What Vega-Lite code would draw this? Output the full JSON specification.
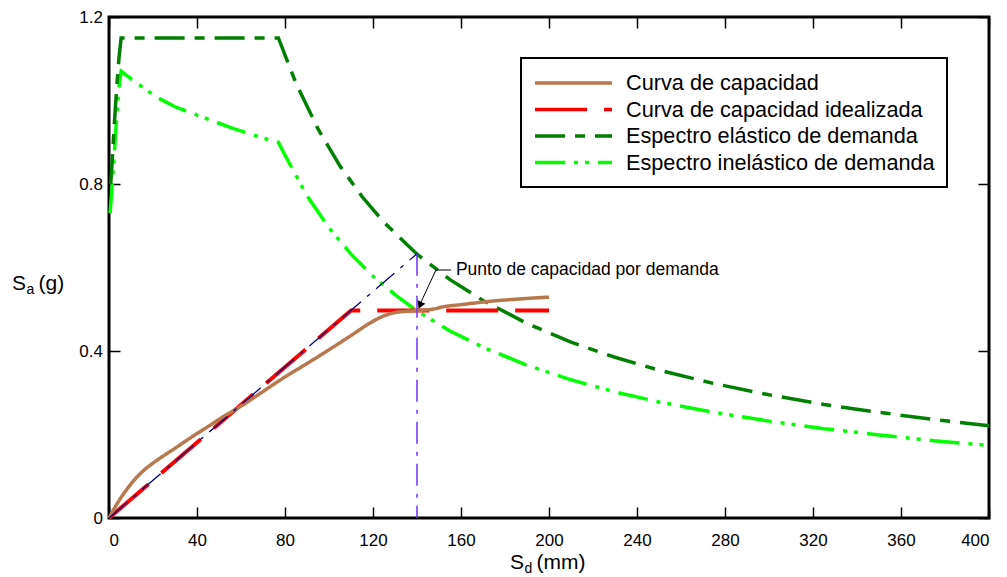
{
  "$schema": "https://vega.github.io/schema/vega-lite/v6.json",
  "width": 880,
  "height": 501,
  "autosize": {"type": "none"},
  "padding": {"left": 109, "top": 17, "right": 18, "bottom": 59},
  "background": "white",
  "config": {
    "font": "Liberation Sans",
    "view": {"stroke": "black", "strokeWidth": 3},
    "axis": {"grid": false, "domain": false, "ticks": true, "tickColor": "black", "tickWidth": 1.5, "tickSize": -11, "labelFontSize": 17, "labelColor": "black", "labelFont": "Liberation Sans", "title": null},
    "legend": {
      "orient": "none", "legendX": 412, "legendY": 41,
      "strokeColor": "black", "strokeWidth": 2, "fillColor": "white", "padding": 12,
      "symbolType": "M-1,0H6", "symbolSize": 484, "symbolStrokeWidth": 3.5,
      "labelFontSize": 21.7, "labelFont": "Liberation Sans", "labelColor": "black",
      "labelOffset": 67, "rowPadding": 1.5, "labelLimit": 600, "title": null
    }
  },
  "datasets": {
    "series": [
      {"s": "Curva de capacidad", "x": 0, "y": 0},
      {"s": "Curva de capacidad", "x": 4, "y": 0.037},
      {"s": "Curva de capacidad", "x": 8, "y": 0.068},
      {"s": "Curva de capacidad", "x": 12, "y": 0.094},
      {"s": "Curva de capacidad", "x": 16, "y": 0.115},
      {"s": "Curva de capacidad", "x": 22, "y": 0.139},
      {"s": "Curva de capacidad", "x": 30, "y": 0.167},
      {"s": "Curva de capacidad", "x": 37, "y": 0.192},
      {"s": "Curva de capacidad", "x": 45, "y": 0.219},
      {"s": "Curva de capacidad", "x": 52, "y": 0.243},
      {"s": "Curva de capacidad", "x": 60, "y": 0.268},
      {"s": "Curva de capacidad", "x": 70, "y": 0.303},
      {"s": "Curva de capacidad", "x": 80, "y": 0.338},
      {"s": "Curva de capacidad", "x": 90, "y": 0.37},
      {"s": "Curva de capacidad", "x": 100, "y": 0.403},
      {"s": "Curva de capacidad", "x": 110, "y": 0.437},
      {"s": "Curva de capacidad", "x": 118, "y": 0.465},
      {"s": "Curva de capacidad", "x": 124, "y": 0.482},
      {"s": "Curva de capacidad", "x": 130, "y": 0.492},
      {"s": "Curva de capacidad", "x": 135, "y": 0.495},
      {"s": "Curva de capacidad", "x": 140, "y": 0.497},
      {"s": "Curva de capacidad", "x": 147, "y": 0.5},
      {"s": "Curva de capacidad", "x": 152, "y": 0.506},
      {"s": "Curva de capacidad", "x": 160, "y": 0.511},
      {"s": "Curva de capacidad", "x": 168, "y": 0.516},
      {"s": "Curva de capacidad", "x": 175, "y": 0.52},
      {"s": "Curva de capacidad", "x": 185, "y": 0.524},
      {"s": "Curva de capacidad", "x": 193, "y": 0.527},
      {"s": "Curva de capacidad", "x": 200, "y": 0.529},
      {"s": "Curva de capacidad idealizada", "x": 0, "y": 0},
      {"s": "Curva de capacidad idealizada", "x": 110, "y": 0.497},
      {"s": "Curva de capacidad idealizada", "x": 200, "y": 0.497},
      {"s": "Espectro elástico de demanda", "x": 0.8, "y": 0.8},
      {"s": "Espectro elástico de demanda", "x": 1.5, "y": 0.86},
      {"s": "Espectro elástico de demanda", "x": 2.5, "y": 0.95},
      {"s": "Espectro elástico de demanda", "x": 3.5, "y": 1.03},
      {"s": "Espectro elástico de demanda", "x": 4.5, "y": 1.1},
      {"s": "Espectro elástico de demanda", "x": 5.5, "y": 1.15},
      {"s": "Espectro elástico de demanda", "x": 77, "y": 1.15},
      {"s": "Espectro elástico de demanda", "x": 85, "y": 1.041},
      {"s": "Espectro elástico de demanda", "x": 95, "y": 0.932},
      {"s": "Espectro elástico de demanda", "x": 105, "y": 0.843},
      {"s": "Espectro elástico de demanda", "x": 115, "y": 0.77},
      {"s": "Espectro elástico de demanda", "x": 125, "y": 0.708},
      {"s": "Espectro elástico de demanda", "x": 140, "y": 0.632},
      {"s": "Espectro elástico de demanda", "x": 155, "y": 0.571},
      {"s": "Espectro elástico de demanda", "x": 170, "y": 0.521},
      {"s": "Espectro elástico de demanda", "x": 190, "y": 0.466},
      {"s": "Espectro elástico de demanda", "x": 210, "y": 0.421},
      {"s": "Espectro elástico de demanda", "x": 230, "y": 0.385},
      {"s": "Espectro elástico de demanda", "x": 250, "y": 0.354},
      {"s": "Espectro elástico de demanda", "x": 275, "y": 0.322},
      {"s": "Espectro elástico de demanda", "x": 300, "y": 0.295},
      {"s": "Espectro elástico de demanda", "x": 325, "y": 0.272},
      {"s": "Espectro elástico de demanda", "x": 350, "y": 0.253},
      {"s": "Espectro elástico de demanda", "x": 375, "y": 0.236},
      {"s": "Espectro elástico de demanda", "x": 400, "y": 0.221},
      {"s": "Espectro inelástico de demanda", "x": 0.5, "y": 0.73},
      {"s": "Espectro inelástico de demanda", "x": 1.5, "y": 0.8},
      {"s": "Espectro inelástico de demanda", "x": 2.5, "y": 0.88},
      {"s": "Espectro inelástico de demanda", "x": 3.5, "y": 0.96},
      {"s": "Espectro inelástico de demanda", "x": 4.5, "y": 1.03},
      {"s": "Espectro inelástico de demanda", "x": 5.5, "y": 1.07},
      {"s": "Espectro inelástico de demanda", "x": 11, "y": 1.048},
      {"s": "Espectro inelástico de demanda", "x": 21.7, "y": 1.008},
      {"s": "Espectro inelástico de demanda", "x": 30, "y": 0.985},
      {"s": "Espectro inelástico de demanda", "x": 40, "y": 0.965},
      {"s": "Espectro inelástico de demanda", "x": 56, "y": 0.934},
      {"s": "Espectro inelástico de demanda", "x": 70, "y": 0.91},
      {"s": "Espectro inelástico de demanda", "x": 77, "y": 0.9},
      {"s": "Espectro inelástico de demanda", "x": 80, "y": 0.869},
      {"s": "Espectro inelástico de demanda", "x": 90, "y": 0.772},
      {"s": "Espectro inelástico de demanda", "x": 100, "y": 0.695},
      {"s": "Espectro inelástico de demanda", "x": 110, "y": 0.632},
      {"s": "Espectro inelástico de demanda", "x": 120, "y": 0.579},
      {"s": "Espectro inelástico de demanda", "x": 130, "y": 0.535},
      {"s": "Espectro inelástico de demanda", "x": 140, "y": 0.496},
      {"s": "Espectro inelástico de demanda", "x": 155, "y": 0.448},
      {"s": "Espectro inelástico de demanda", "x": 170, "y": 0.409},
      {"s": "Espectro inelástico de demanda", "x": 190, "y": 0.366},
      {"s": "Espectro inelástico de demanda", "x": 210, "y": 0.331},
      {"s": "Espectro inelástico de demanda", "x": 230, "y": 0.302},
      {"s": "Espectro inelástico de demanda", "x": 250, "y": 0.278},
      {"s": "Espectro inelástico de demanda", "x": 275, "y": 0.253},
      {"s": "Espectro inelástico de demanda", "x": 300, "y": 0.232},
      {"s": "Espectro inelástico de demanda", "x": 325, "y": 0.214},
      {"s": "Espectro inelástico de demanda", "x": 350, "y": 0.199},
      {"s": "Espectro inelástico de demanda", "x": 375, "y": 0.185},
      {"s": "Espectro inelástico de demanda", "x": 400, "y": 0.174}
    ],
    "helper": [
      {"k": "blue", "x": 0, "y": 0},
      {"k": "blue", "x": 140, "y": 0.633},
      {"k": "violet", "x": 140, "y": 0.633},
      {"k": "violet", "x": 140, "y": 0},
      {"k": "arrow", "x": 155.5, "y": 0.594, "o": 1},
      {"k": "arrow", "x": 148.6, "y": 0.594, "o": 2},
      {"k": "arrow", "x": 141.2, "y": 0.51, "o": 3}
    ],
    "head": [{"x": 141.6, "y": 0.512}],
    "txt": [
      {"part": "main", "label": "S", "x": 182.3, "y": -0.122},
      {"part": "sub", "label": "d", "x": 182.3, "y": -0.122},
      {"part": "rest", "label": "(mm)", "x": 182.3, "y": -0.122},
      {"part": "main", "label": "S", "x": -44.1, "y": 0.546},
      {"part": "sub", "label": "a", "x": -44.1, "y": 0.546},
      {"part": "rest", "label": "(g)", "x": -44.1, "y": 0.546},
      {"part": "ann", "label": "Punto de capacidad por demanda", "x": 157.7, "y": 0.594}
    ]
  },
  "layer": [
    {
      "data": {"name": "series"},
      "transform": [{"filter": "datum.s == 'Espectro inelástico de demanda'"}],
      "mark": {"type": "line", "strokeWidth": 3.5},
      "encoding": {
        "x": {"field": "x", "type": "quantitative", "scale": {"domain": [0, 400], "nice": false, "zero": false}, "axis": {"orient": "bottom", "values": [0, 40, 80, 120, 160, 200, 240, 280, 320, 360, 400], "labelPadding": 25}},
        "y": {"field": "y", "type": "quantitative", "scale": {"domain": [0, 1.2], "nice": false, "zero": false}, "axis": {"orient": "left", "values": [0, 0.4, 0.8, 1.2], "format": "~g", "labelPadding": 17.5}},
        "color": {"field": "s", "type": "nominal", "scale": {"domain": ["Curva de capacidad", "Curva de capacidad idealizada", "Espectro elástico de demanda", "Espectro inelástico de demanda"], "range": ["#B8784E", "#FF0000", "#008000", "#00FF00"]}},
        "strokeDash": {"field": "s", "type": "nominal", "scale": {"domain": ["Curva de capacidad", "Curva de capacidad idealizada", "Espectro elástico de demanda", "Espectro inelástico de demanda"], "range": [[1, 0], [52, 17], [30, 10, 10, 10], [30, 9, 4, 7, 4, 9]]}}
      }
    },
    {
      "data": {"name": "series"},
      "transform": [{"filter": "datum.s == 'Espectro elástico de demanda'"}],
      "mark": {"type": "line", "strokeWidth": 3.5},
      "encoding": {
        "x": {"field": "x", "type": "quantitative", "axis": {"orient": "top", "labels": false, "values": [0, 40, 80, 120, 160, 200, 240, 280, 320, 360, 400]}},
        "y": {"field": "y", "type": "quantitative", "axis": {"orient": "right", "labels": false, "values": [0, 0.4, 0.8, 1.2]}},
        "color": {"field": "s", "type": "nominal"},
        "strokeDash": {"field": "s", "type": "nominal"}
      }
    },
    {
      "data": {"name": "series"},
      "transform": [{"filter": "datum.s == 'Curva de capacidad idealizada'"}],
      "mark": {"type": "line", "strokeWidth": 4},
      "encoding": {
        "x": {"field": "x", "type": "quantitative", "axis": null},
        "y": {"field": "y", "type": "quantitative", "axis": null},
        "color": {"field": "s", "type": "nominal"},
        "strokeDash": {"field": "s", "type": "nominal"}
      }
    },
    {
      "data": {"name": "series"},
      "transform": [{"filter": "datum.s == 'Curva de capacidad'"}],
      "mark": {"type": "line", "strokeWidth": 3.5, "interpolate": "monotone"},
      "encoding": {
        "x": {"field": "x", "type": "quantitative", "axis": null},
        "y": {"field": "y", "type": "quantitative", "axis": null},
        "color": {"field": "s", "type": "nominal"},
        "strokeDash": {"field": "s", "type": "nominal"}
      }
    },
    {
      "data": {"name": "helper"},
      "transform": [{"filter": "datum.k == 'blue'"}],
      "mark": {"type": "line", "color": "#000080", "strokeWidth": 1.3, "strokeDash": [24, 8, 4, 8]},
      "encoding": {
        "x": {"field": "x", "type": "quantitative", "axis": null},
        "y": {"field": "y", "type": "quantitative", "axis": null}
      }
    },
    {
      "data": {"name": "helper"},
      "transform": [{"filter": "datum.k == 'violet'"}],
      "mark": {"type": "line", "color": "#7030FF", "strokeWidth": 1.5, "strokeDash": [22, 8, 4, 8], "orient": "vertical"},
      "encoding": {
        "x": {"field": "x", "type": "quantitative", "axis": null},
        "y": {"field": "y", "type": "quantitative", "axis": null},
        "order": {"field": "y", "sort": "descending"}
      }
    },
    {
      "data": {"name": "helper"},
      "transform": [{"filter": "datum.k == 'arrow'"}],
      "mark": {"type": "line", "color": "black", "strokeWidth": 1},
      "encoding": {
        "x": {"field": "x", "type": "quantitative", "axis": null},
        "y": {"field": "y", "type": "quantitative", "axis": null},
        "order": {"field": "o"}
      }
    },
    {
      "data": {"name": "head"},
      "mark": {"type": "point", "shape": "triangle", "filled": true, "color": "black", "size": 70, "angle": 204, "opacity": 1},
      "encoding": {
        "x": {"field": "x", "type": "quantitative", "axis": null},
        "y": {"field": "y", "type": "quantitative", "axis": null}
      }
    },
    {
      "data": {"name": "txt"},
      "transform": [{"filter": "datum.part == 'main'"}],
      "mark": {"type": "text", "align": "left", "baseline": "alphabetic", "fontSize": 21, "font": "Liberation Sans", "color": "black"},
      "encoding": {
        "x": {"field": "x", "type": "quantitative", "axis": null},
        "y": {"field": "y", "type": "quantitative", "axis": null},
        "text": {"field": "label"}
      }
    },
    {
      "data": {"name": "txt"},
      "transform": [{"filter": "datum.part == 'sub'"}],
      "mark": {"type": "text", "align": "left", "baseline": "alphabetic", "fontSize": 14, "font": "Liberation Sans", "color": "black", "dx": 14.5, "dy": 4},
      "encoding": {
        "x": {"field": "x", "type": "quantitative", "axis": null},
        "y": {"field": "y", "type": "quantitative", "axis": null},
        "text": {"field": "label"}
      }
    },
    {
      "data": {"name": "txt"},
      "transform": [{"filter": "datum.part == 'rest'"}],
      "mark": {"type": "text", "align": "left", "baseline": "alphabetic", "fontSize": 21, "font": "Liberation Sans", "color": "black", "dx": 26.5},
      "encoding": {
        "x": {"field": "x", "type": "quantitative", "axis": null},
        "y": {"field": "y", "type": "quantitative", "axis": null},
        "text": {"field": "label"}
      }
    },
    {
      "data": {"name": "txt"},
      "transform": [{"filter": "datum.part == 'ann'"}],
      "mark": {"type": "text", "align": "left", "baseline": "middle", "fontSize": 17.5, "font": "Liberation Sans", "color": "black"},
      "encoding": {
        "x": {"field": "x", "type": "quantitative", "axis": null},
        "y": {"field": "y", "type": "quantitative", "axis": null},
        "text": {"field": "label"}
      }
    }
  ],
  "resolve": {"axis": {"x": "independent", "y": "independent"}}
}
